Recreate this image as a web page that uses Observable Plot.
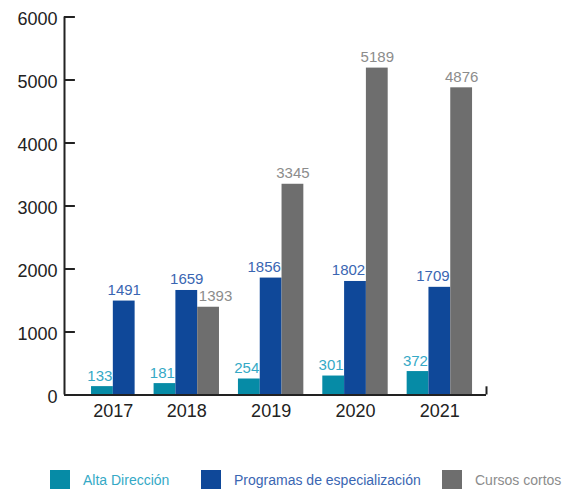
<!DOCTYPE html>
<html>
<head>
<meta charset="utf-8">
<script src="https://cdn.jsdelivr.net/npm/d3@7"></script>
<script src="https://cdn.jsdelivr.net/npm/@observablehq/plot@0.6"></script>
<style>
  html, body { margin: 0; padding: 0; background: #fff; }
  body { width: 572px; height: 492px; overflow: hidden; font-family: "Liberation Sans", Arial, Helvetica, sans-serif; }
  #legend { position: relative; height: 32px; }
  .item { position: absolute; top: 10px; display: flex; align-items: center; font-size: 14px; height: 19px; }
  .sw { width: 20px; height: 19px; margin-right: 13px; }
</style>
</head>
<body>
<div id="chart"></div>
<div id="legend"></div>
<script>
// ---- data ----
const years = ["2017", "2018", "2019", "2020", "2021"];
const series = ["Alta Dirección", "Programas de especialización", "Cursos cortos"];
const alta = [133, 181, 254, 301, 372];
const programas = [1491, 1659, 1856, 1802, 1709];
const cursos = [null, 1393, 3345, 5189, 4876];
const yTicks = [0, 1000, 2000, 3000, 4000, 5000, 6000];

// ---- styles ----
const barColors = ["#068ba6", "#0f4899", "#6e6e6e"];
const labelColors = ["#35a9c6", "#3a66b2", "#8c8c8c"];
const ink = "#222";

// layout in bar-width units
const barW = 1, gap = 0.87, padL = 1.24, padR = 0.64, shift = 0.32;
const values = [alta, programas, cursos];
const rows = [], groups = [];
let pos = padL;
years.forEach((yr, i) => {
  const start = pos;
  series.forEach((s, j) => {
    const v = values[j][i];
    if (v == null) return;
    rows.push({year: yr, series: s, si: j, value: v, x1: pos, x2: pos + barW});
    pos += barW;
  });
  groups.push({year: yr, xc: (start + pos) / 2});
  pos += gap;
});
const total = pos - gap + padR;

// label x with small nudges to avoid neighbouring bars
rows.forEach(d => {
  let lx = (d.x1 + d.x2) / 2;
  const i = years.indexOf(d.year);
  const g = cursos[i], b = programas[i];
  if (d.si === 0) lx -= 0.12;
  if (d.si === 1 && g != null && g > b) lx -= shift;
  if (d.si === 2 && g < b) lx += shift;
  d.lx = lx;
});

const W = 572, H = 460;
const chart = Plot.plot({
  width: W,
  height: H,
  marginLeft: 64,
  marginRight: W - 486,
  marginTop: 16.5,
  marginBottom: H - 394.5,
  style: {fontFamily: "'Liberation Sans', Arial, Helvetica, sans-serif", background: "#fff"},
  x: {type: "linear", domain: [0, total], axis: null},
  y: {domain: [0, 6000], axis: null},
  color: {domain: series, range: barColors},
  marks: [
    Plot.rect(rows, {x1: "x1", x2: "x2", y1: 0, y2: "value", fill: "series"}),
    Plot.ruleY([0], {x1: 0, x2: total, stroke: ink, strokeWidth: 2}),
    Plot.ruleX([0], {y1: 0, y2: 6000, stroke: ink, strokeWidth: 2}),
    Plot.ruleX([total], {y1: 0, y2: 130, stroke: ink, strokeWidth: 2}),
    Plot.ruleY(yTicks, {x1: 0, x2: 0.5, stroke: ink, strokeWidth: 2}),
    Plot.axisY(yTicks, {tickSize: 0, tickPadding: 7, fontSize: 18, fill: ink, dy: 2, label: null, tickFormat: d => String(d)}),
    Plot.text(groups, {x: "xc", y: 0, text: "year", lineAnchor: "top", dy: 9.5, fontSize: 18, fill: ink}),
    ...series.map((s, j) => Plot.text(rows.filter(d => d.si === j), {
      x: "lx", y: "value", text: d => String(d.value),
      lineAnchor: "bottom", dy: -6, fontSize: 15, fill: labelColors[j]
    }))
  ]
});
document.getElementById("chart").appendChild(chart);

// legend
const legendLeft = [50, 201, 442];
const legend = document.getElementById("legend");
series.forEach((s, j) => {
  const item = document.createElement("div");
  item.className = "item";
  item.style.left = legendLeft[j] + "px";
  const sw = document.createElement("div");
  sw.className = "sw";
  sw.style.background = barColors[j];
  const t = document.createElement("span");
  t.textContent = s;
  t.style.color = labelColors[j];
  item.appendChild(sw);
  item.appendChild(t);
  legend.appendChild(item);
});
</script>
</body>
</html>
